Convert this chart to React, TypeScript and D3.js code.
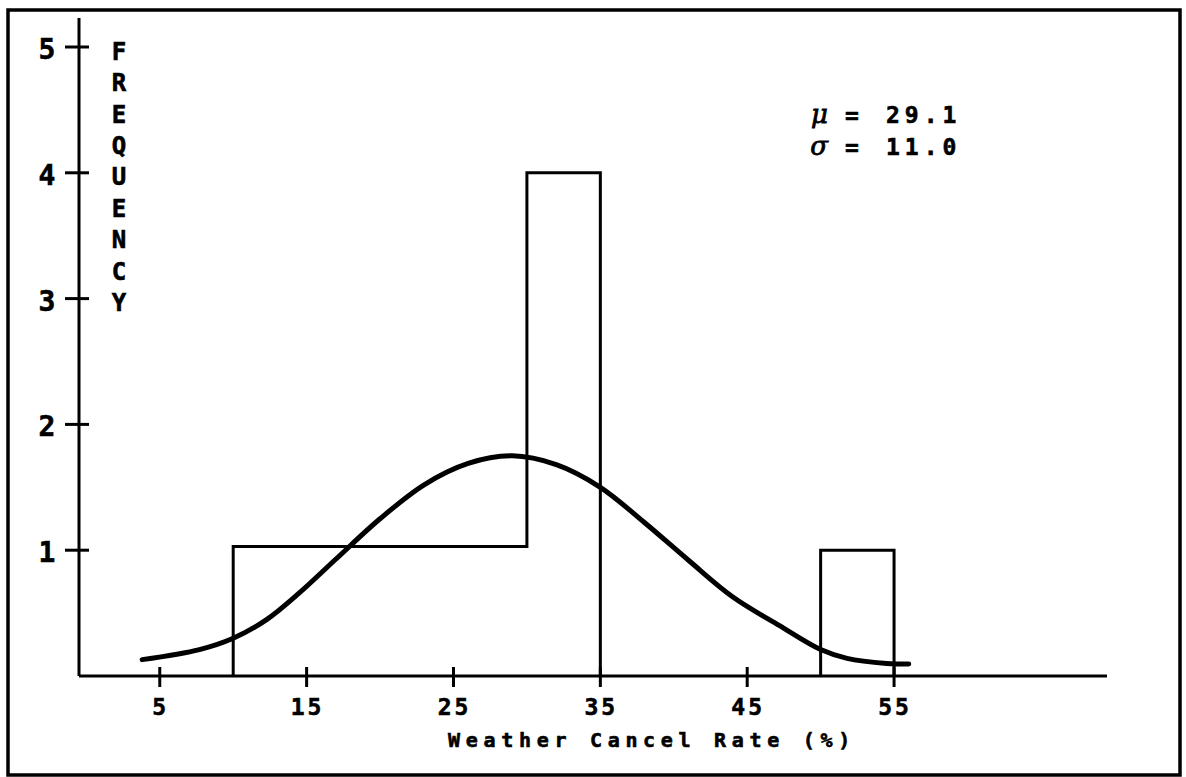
import React, { useEffect, useRef } from "react";
import * as d3 from "d3";

// Histogram of weather cancel rates (outline bars) with the fitted normal curve
const BINS = [
  { x0: 10, x1: 30, freq: 1.03 },
  { x0: 30, x1: 35, freq: 4 },
  { x0: 50, x1: 55, freq: 1 },
];

// points (rate %, frequency)
const CURVE = [
  [3.8, 0.13], [7.7, 0.21], [10, 0.3], [12.3, 0.45], [14.5, 0.66],
  [17, 0.93], [20, 1.25], [23, 1.52], [26, 1.69], [29, 1.75],
  [32, 1.68], [35, 1.5], [38, 1.22], [41, 0.92], [44, 0.63],
  [47.2, 0.4], [50, 0.21], [51.8, 0.14], [54.5, 0.1], [56, 0.095],
];

const X_TICKS = [5, 15, 25, 35, 45, 55];
const Y_TICKS = [1, 2, 3, 4, 5];
const Y_TITLE = "FREQUENCY".split("");
const STATS = [
  { sym: "μ", value: "29.1" },
  { sym: "σ", value: "11.0" },
];

const W = 1186;
const H = 777;
const FONT = "'DejaVu Sans Mono', monospace";

export default function App() {
  const svgRef = useRef<SVGSVGElement>(null);

  useEffect(() => {
    const svg = d3.select(svgRef.current);
    svg.selectAll("*").remove();

    const x = d3.scaleLinear().domain([-0.5, 69.5]).range([79, 1107]);
    const y = d3.scaleLinear().domain([0, 5]).range([676, 47]);

    // outer frame
    svg.append("rect")
      .attr("x", 8).attr("y", 10)
      .attr("width", W - 14).attr("height", H - 12)
      .attr("fill", "none").attr("stroke", "#000").attr("stroke-width", 3.5);

    const g = svg.append("g");
    const bold = (sel: any, size: number) => sel
      .style("font-family", FONT).style("font-weight", 700).style("font-size", `${size}px`)
      .attr("stroke", "#000").attr("stroke-width", 0.6);

    // axes
    g.append("line")
      .attr("x1", x(-0.5)).attr("x2", x(-0.5))
      .attr("y1", y(5.23)).attr("y2", y(0))
      .attr("stroke", "#000").attr("stroke-width", 3);
    g.append("line")
      .attr("x1", x(-0.5)).attr("x2", x(69.5))
      .attr("y1", y(0)).attr("y2", y(0))
      .attr("stroke", "#000").attr("stroke-width", 3);

    // y ticks + labels
    g.selectAll(".ytick")
      .data(Y_TICKS)
      .join("line")
      .attr("x1", x(-0.5) - 14).attr("x2", x(-0.5) + 10)
      .attr("y1", d => y(d)).attr("y2", d => y(d))
      .attr("stroke", "#000").attr("stroke-width", 3);
    bold(g.selectAll(".ylab")
      .data(Y_TICKS)
      .join("text")
      .attr("x", 47).attr("y", d => y(d) + 2)
      .attr("dy", "0.36em")
      .attr("text-anchor", "middle"), 28)
      .text(d => d);

    // x ticks + labels
    g.selectAll(".xtick")
      .data(X_TICKS)
      .join("line")
      .attr("x1", d => x(d)).attr("x2", d => x(d))
      .attr("y1", y(0) - 9).attr("y2", y(0) + 11)
      .attr("stroke", "#000").attr("stroke-width", 3);
    bold(g.selectAll(".xlab")
      .data(X_TICKS)
      .join("text")
      .attr("x", d => x(d) + 1).attr("y", 715)
      .attr("text-anchor", "middle")
      .style("letter-spacing", "3px"), 23)
      .text(d => d);

    // vertical y title
    const step = (y(4) - y(5)) / 4;
    bold(g.selectAll(".ytitle")
      .data(Y_TITLE)
      .join("text")
      .attr("x", 119).attr("y", (d, i) => y(5) + 4 + i * step)
      .attr("dy", "0.36em")
      .attr("text-anchor", "middle"), 24)
      .text(d => d);

    // x title
    bold(g.append("text")
      .attr("x", 652).attr("y", 747)
      .attr("text-anchor", "middle")
      .style("letter-spacing", "5.7px"), 20)
      .text("Weather Cancel Rate (%)");

    // histogram outline
    const outline = (bins: typeof BINS) => {
      const pts: [number, number][] = [];
      bins.forEach((b, i) => {
        const prev = bins[i - 1];
        if (!prev || prev.x1 !== b.x0) pts.push([b.x0, 0]);
        pts.push([b.x0, b.freq], [b.x1, b.freq]);
        const next = bins[i + 1];
        if (!next || next.x0 !== b.x1) pts.push([b.x1, 0]);
      });
      return pts;
    };
    const groups = [BINS.slice(0, 2), BINS.slice(2)];
    groups.forEach(grp => {
      g.append("path")
        .attr("d", d3.line().x(d => x(d[0])).y(d => y(d[1]))(outline(grp)))
        .attr("fill", "none").attr("stroke", "#000").attr("stroke-width", 3);
    });

    // fitted curve
    g.append("path")
      .attr("d", d3.line().curve(d3.curveCatmullRom).x(d => x(d[0])).y(d => y(d[1]))(CURVE as [number, number][]))
      .attr("fill", "none").attr("stroke", "#000").attr("stroke-width", 5)
      .attr("stroke-linecap", "round");

    // stats annotation
    const st = g.selectAll(".stat")
      .data(STATS)
      .join("g")
      .attr("transform", (d, i) => `translate(0,${123 + i * 32})`);
    st.append("text")
      .attr("x", 828).attr("text-anchor", "end")
      .style("font-family", "'DejaVu Serif', serif").style("font-style", "italic")
      .attr("stroke", "#000").attr("stroke-width", 0.8)
      .style("font-size", "26px")
      .text(d => d.sym);
    bold(st.append("text")
      .attr("x", 845), 23)
      .text("=");
    bold(st.append("text")
      .attr("x", 886)
      .style("letter-spacing", "5px"), 23)
      .text(d => d.value);
  }, []);

  return (
    <svg ref={svgRef} width={W} height={H}
      style={{ position: "absolute", left: 0, top: 0, background: "#fff" }} />
  );
}
